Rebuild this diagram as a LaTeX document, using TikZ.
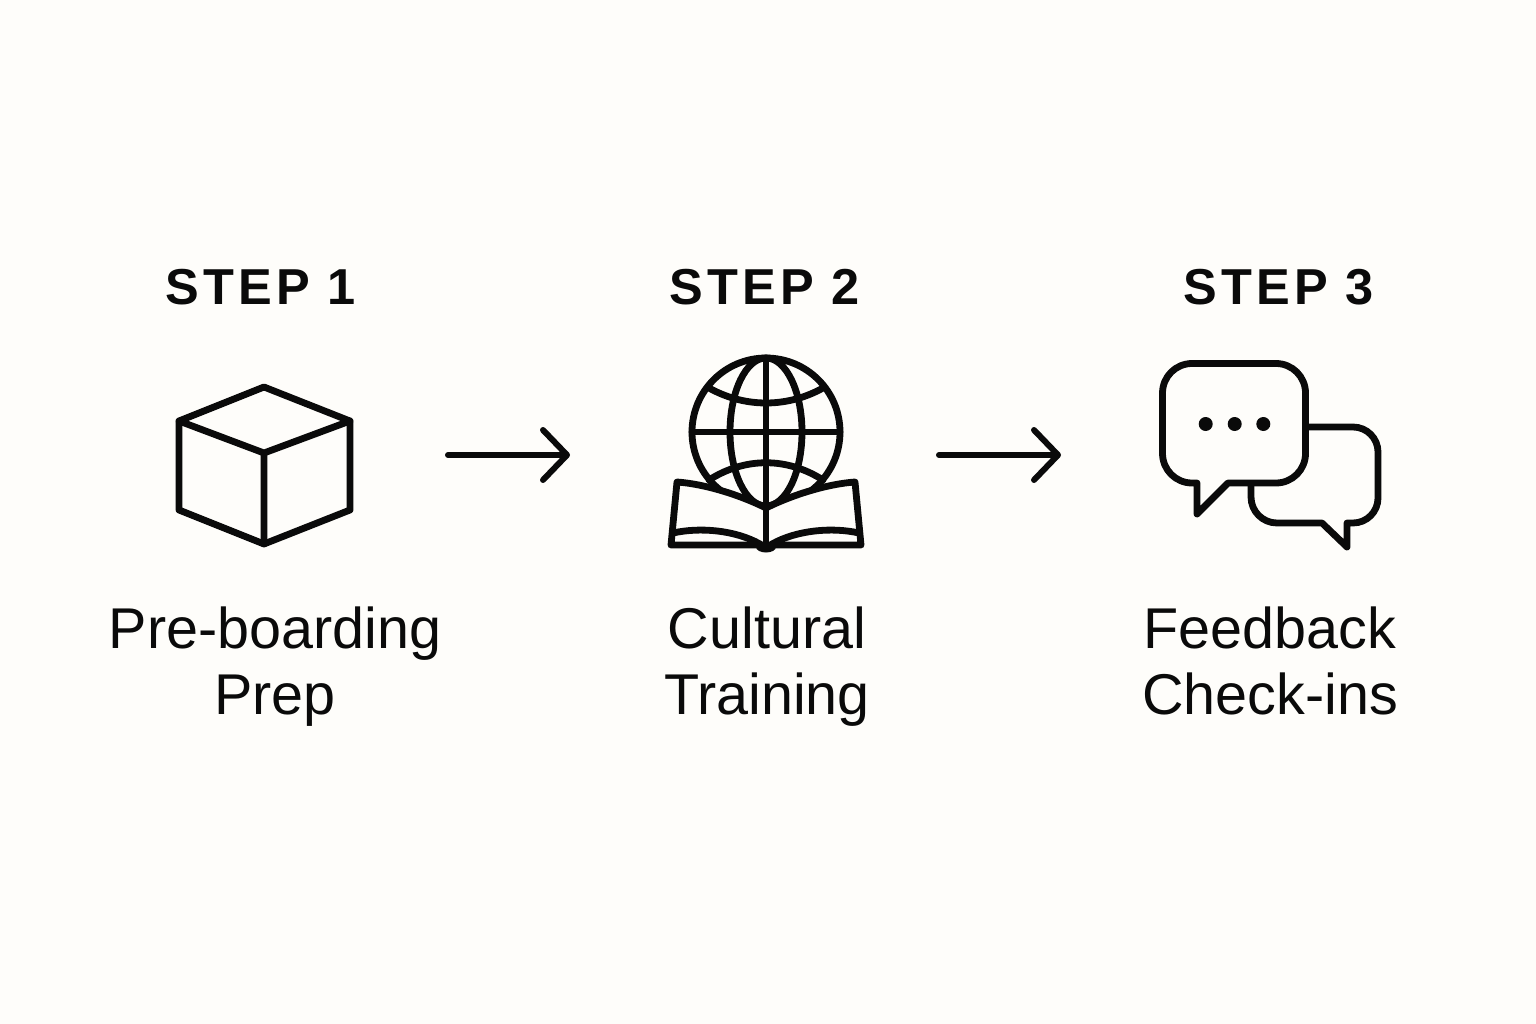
\documentclass[tikz,border=0pt]{standalone}
\usepackage{fontspec}
\setmainfont{Liberation Sans}
\newfontfamily\stepfont[LetterSpace=8]{Liberation Sans Bold}
\usetikzlibrary{arrows.meta}
\definecolor{bgc}{HTML}{FEFDFA}
\definecolor{ink}{HTML}{0A0A0A}
\tikzset{
  icon/.style={draw=ink,line width=6.8pt,line join=round,line cap=round},
  steptitle/.style={anchor=base,text=ink,font=\stepfont\fontsize{50.5}{60}\selectfont},
  caption/.style={anchor=base,text=ink,align=center,font=\fontsize{57.5}{66}\selectfont},
  flow/.style={draw=ink,line width=6pt,line cap=round,-{Straight Barb[length=24pt,width=50pt,line width=6pt,round]}},
}
\begin{document}
\begin{tikzpicture}[x=1pt,y=-1pt]
\path[fill=bgc] (0,0) rectangle (1536,1024);
\useasboundingbox (0,0) rectangle (1536,1024);

% titles
\node[steptitle] (t1) at (261,305) {STEP 1};
\node[steptitle] (t2) at (765,305) {STEP 2};
\node[steptitle] (t3) at (1279,305) {STEP 3};

% captions
\node[caption] (c1a) at (275,648) {Pre-boarding};
\node[caption] (c1b) at (275,714) {Prep};
\node[caption] (c2a) at (767,648) {Cultural};
\node[caption] (c2b) at (767,714) {Training};
\node[caption] (c3a) at (1270,648) {Feedback};
\node[caption] (c3b) at (1270,714) {Check-ins};

% cube
\draw[icon] (264,387) -- (350,421) -- (350,510) -- (264,544) -- (179,510) -- (179,421) -- cycle;
\draw[icon] (179,421) -- (264,453) -- (350,421) (264,453) -- (264,544);

% globe
\draw[icon] (766,432) circle (74);
\draw[icon] (766,432) ellipse (36 and 74);
\draw[icon] (766,358) -- (766,508);
\draw[icon] (692,432) -- (840,432);
\draw[icon] (709,388) .. controls (745,408) and (787,408) .. (823,388);
\draw[icon] (709,480) .. controls (745,457) and (787,457) .. (823,480);

% book
\draw[icon,fill=bgc] (766,508) .. controls (740,495) and (705,484) .. (677,482)
  -- (671,545) -- (861,545) -- (855,482) .. controls (827,484) and (792,495) .. (766,508) -- cycle;
\draw[icon] (766,508) -- (766,546);
\draw[icon] (673,533) .. controls (700,527) and (735,530) .. (760,544);
\draw[icon] (859,533) .. controls (832,527) and (797,530) .. (772,544);
\fill[ink] (766,547) ellipse (10 and 5.5);

% speech bubbles
\draw[icon] (1307,427) -- (1353,427) arc[start angle=-90,end angle=0,radius=25] -- (1378,498)
  arc[start angle=0,end angle=90,radius=25] -- (1347,523) -- (1347,547) -- (1322,523) -- (1277,523)
  arc[start angle=90,end angle=180,radius=26] -- (1251,485);
\draw[icon] (1192,363.5) -- (1276,363.5) arc[start angle=-90,end angle=0,radius=29.5] -- (1305.5,453.5)
  arc[start angle=0,end angle=90,radius=29.5] -- (1228,483) -- (1197,514) -- (1197,483) -- (1192,483)
  arc[start angle=90,end angle=180,radius=29.5] -- (1162.5,393) arc[start angle=180,end angle=270,radius=29.5] -- cycle;
\fill[ink] (1205.7,424) circle (7) (1234.7,424) circle (7) (1263.3,424) circle (7);

% arrows
\coordinate (a1s) at (448,455);
\coordinate (a1e) at (570,455);
\coordinate (a2s) at (939,455);
\coordinate (a2e) at (1061,455);
\draw[flow] (a1s) -- (a1e);
\draw[flow] (a2s) -- (a2e);
\end{tikzpicture}
\end{document}
